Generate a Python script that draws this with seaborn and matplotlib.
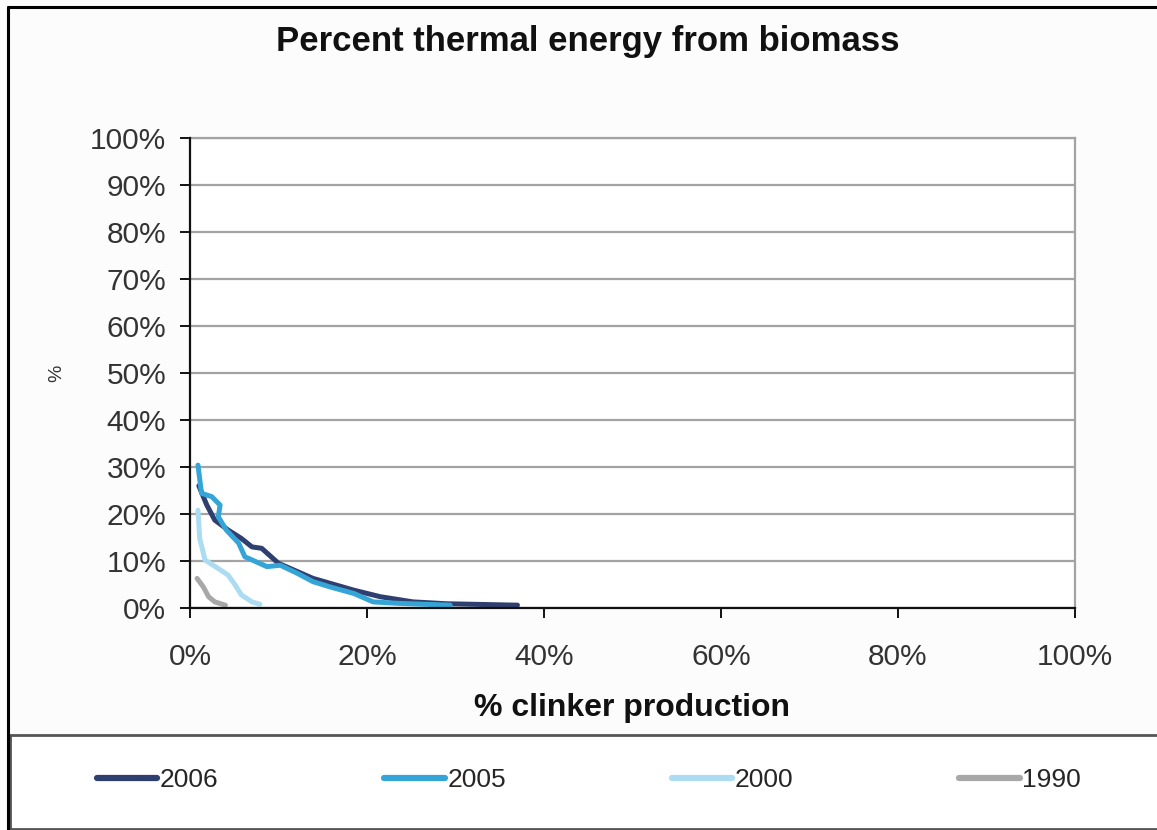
import matplotlib
matplotlib.use("Agg")
import matplotlib.pyplot as plt
from matplotlib.ticker import PercentFormatter, MultipleLocator
from matplotlib.patches import Rectangle
from matplotlib.lines import Line2D
from matplotlib import font_manager
import seaborn as sns
import pandas as pd

# Share of clinker production (x, %) vs. share of thermal energy from biomass (y, %)
x_2006 = [1.0, 1.9, 2.8, 4.3, 5.8, 7.0, 8.1, 10.0, 13.9, 18.5, 21.5, 25.2, 29.0, 37.0]
y_2006 = [26.0, 21.9, 18.7, 16.6, 14.8, 13.0, 12.7, 9.5, 6.3, 3.8, 2.4, 1.3, 0.9, 0.6]

x_2005 = [0.9, 1.3, 2.45, 3.4, 3.2, 4.1, 5.5, 6.2, 8.7, 10.2, 12.1, 13.9, 15.8, 18.5, 20.7, 23.4, 29.4]
y_2005 = [30.4, 24.4, 23.7, 21.9, 19.4, 16.6, 13.8, 10.9, 8.8, 9.1, 7.4, 5.6, 4.5, 3.1, 1.3, 1.0, 0.6]

x_2000 = [0.9, 1.1, 1.7, 3.2, 4.3, 5.1, 5.8, 7.0, 7.9]
y_2000 = [20.8, 14.8, 10.2, 8.4, 7.0, 4.9, 2.8, 1.3, 0.8]

x_1990 = [0.8, 1.5, 2.1, 2.8, 4.0]
y_1990 = [6.3, 4.5, 2.4, 1.3, 0.6]

years = ["2006", "2005", "2000", "1990"]
colors = ["#2f3f6f", "#35a5d8", "#acdcf1", "#a8a8a8"]

series = {
    "2006": (x_2006, y_2006),
    "2005": (x_2005, y_2005),
    "2000": (x_2000, y_2000),
    "1990": (x_1990, y_1990),
}

sns.set_theme(style="white")
installed = {f.name for f in font_manager.fontManager.ttflist}
base_font = "Liberation Sans" if "Liberation Sans" in installed else "DejaVu Sans"
plt.rcParams["font.family"] = [base_font, "DejaVu Sans"]

W, H = 1157, 830
fig = plt.figure(figsize=(W / 100, H / 100), dpi=100)
fig.patch.set_facecolor("#fcfcfc")

ax = fig.add_axes([190 / W, 1 - 608 / H, (1075 - 190) / W, (608 - 138) / H])
ax.set_facecolor("white")

# one polyline per year, drawn in legend order
for yr, col in zip(years, colors):
    xs, ys = series[yr]
    sns.lineplot(x=xs, y=ys, sort=False, estimator=None, color=col,
                 linewidth=3.6, ax=ax)

ax.set_xlim(0, 100)
ax.set_ylim(0, 100)
ax.xaxis.set_major_locator(MultipleLocator(20))
ax.yaxis.set_major_locator(MultipleLocator(10))
ax.xaxis.set_major_formatter(PercentFormatter(xmax=100, decimals=0))
ax.yaxis.set_major_formatter(PercentFormatter(xmax=100, decimals=0))

ax.yaxis.grid(True, color="#a3a3a3", linewidth=1.6)
ax.xaxis.grid(False)
ax.set_axisbelow(True)

for side in ("left", "bottom"):
    ax.spines[side].set_color("#111111")
    ax.spines[side].set_linewidth(1.6)
    ax.spines[side].set_zorder(5)
for side in ("top", "right"):
    ax.spines[side].set_color("#a3a3a3")
    ax.spines[side].set_linewidth(1.6)

ax.tick_params(axis="both", which="major", direction="out", length=7, width=1.4,
               color="#111111", labelsize=21.5, labelcolor="#333333")
ax.tick_params(axis="y", left=True, pad=10)
ax.tick_params(axis="x", bottom=True, pad=18)

ax.set_xlabel("% clinker production", fontsize=23, fontweight="bold",
              color="#111111", labelpad=16)
ax.set_ylabel("%", fontsize=14, color="#333333", labelpad=18)

fig.text(588 / W, 1 - 42 / H, "Percent thermal energy from biomass",
         ha="center", va="center", fontsize=25, fontweight="bold", color="#111111")

# chart frame (left and top edges)
fig.add_artist(Line2D([8 / W, 8 / W], [0, 1 - 7 / H], transform=fig.transFigure,
                      color="black", linewidth=2.2))
fig.add_artist(Line2D([8 / W, 1], [1 - 7 / H, 1 - 7 / H], transform=fig.transFigure,
                      color="black", linewidth=2.2))

# legend box
fig.add_artist(Rectangle((10 / W, 1 / H), (W - 8) / W, (829 - 735) / H,
                         transform=fig.transFigure, facecolor="white",
                         edgecolor="#555555", linewidth=2, zorder=0))

handles = [Line2D([], [], color=c, linewidth=4.5, solid_capstyle="round") for c in colors]
fig.legend(handles, years, loc="center left", ncol=4, mode="expand",
           bbox_to_anchor=(73 / W, 1 - 780 / H, 1032 / W, 0),
           frameon=False, handlelength=2.3, handletextpad=0.1,
           prop={"size": 19})

fig.savefig("out.png", dpi=100, facecolor=fig.get_facecolor())
